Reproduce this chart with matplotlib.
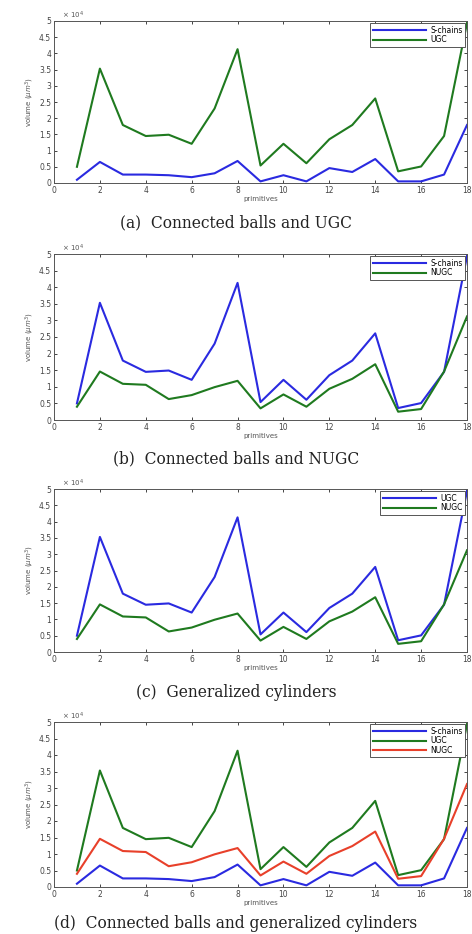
import numpy as np
import matplotlib
matplotlib.use("Agg")
import matplotlib.pyplot as plt

# primitives on the x axis
primitives = np.arange(1, 19)

# volumes in units of 1e4
s_chains = [0.10, 0.65, 0.26, 0.26, 0.24, 0.18, 0.30, 0.68, 0.05, 0.24,
            0.05, 0.46, 0.34, 0.74, 0.05, 0.05, 0.26, 1.79]
ugc = [0.50, 3.53, 1.79, 1.45, 1.49, 1.21, 2.30, 4.13, 0.54, 1.21,
       0.61, 1.35, 1.79, 2.61, 0.36, 0.51, 1.45, 4.94]
nugc = [0.40, 1.46, 1.09, 1.06, 0.63, 0.75, 0.99, 1.18, 0.35, 0.77,
        0.40, 0.94, 1.24, 1.68, 0.25, 0.33, 1.46, 3.12]

x_ticks = list(range(0, 19, 2))
y_ticks = [0, 0.5, 1, 1.5, 2, 2.5, 3, 3.5, 4, 4.5, 5]
y_ticklabels = ['0', '0.5', '1', '1.5', '2', '2.5', '3', '3.5', '4', '4.5', '5']

captions = ["(a)  Connected balls and UGC",
            "(b)  Connected balls and NUGC",
            "(c)  Generalized cylinders",
            "(d)  Connected balls and generalized cylinders"]

blue = '#2a2ae0'
green = '#1f7a1f'
red = '#e8402a'

panels = [
    [(s_chains, blue, 'S-chains'), (ugc, green, 'UGC')],
    [(ugc, blue, 'S-chains'), (nugc, green, 'NUGC')],
    [(ugc, blue, 'UGC'), (nugc, green, 'NUGC')],
    [(s_chains, blue, 'S-chains'), (ugc, green, 'UGC'), (nugc, red, 'NUGC')],
]

# axes boxes in pixels: (top, bottom)
boxes = [(21, 183), (254, 420), (489, 652), (722, 887)]
# caption tops in pixels
caption_y = [214, 450, 684, 915]

W, H = 472, 934
fig = plt.figure(figsize=(W / 100, H / 100), dpi=100)
left, right = 54, 467

for i, series in enumerate(panels):
    top, bot = boxes[i]
    ax = fig.add_axes([left / W, 1 - bot / H, (right - left) / W, (bot - top) / H])
    for vals, col, lab in series:
        ax.plot(primitives, vals, color=col, lw=1.5, label=lab)
    ax.set_xlim(0, 18)
    ax.set_ylim(0, 5)
    ax.set_xticks(x_ticks)
    ax.set_yticks(y_ticks)
    ax.set_yticklabels(y_ticklabels)
    ax.tick_params(direction='in', top=True, right=True, labelsize=5.5,
                   length=2.5, width=0.7, pad=2, colors='#444444')
    for sp in ax.spines.values():
        sp.set_linewidth(0.7)
        sp.set_color('#555555')
    ax.set_xlabel('primitives', fontsize=5, labelpad=1, color='#555555')
    ax.set_ylabel('volume ($\\mu m^3$)', fontsize=5, labelpad=2, color='#555555')
    ax.text(0.02, 1.0, '$\\times\\ 10^4$', transform=ax.transAxes,
            fontsize=5, va='bottom', ha='left', color='#555555')
    leg = ax.legend(loc='upper right', fontsize=5.5, handlelength=7,
                    borderpad=0.3, labelspacing=0.1, handletextpad=0.5,
                    fancybox=False, framealpha=1, borderaxespad=0.3)
    leg.get_frame().set_edgecolor('#555555')
    leg.get_frame().set_linewidth(0.7)
    fig.text(0.5, 1 - caption_y[i] / H, captions[i], ha='center', va='top',
             fontsize=11.2, family='DejaVu Serif', color='#222222')

fig.savefig('out.png', dpi=100)
